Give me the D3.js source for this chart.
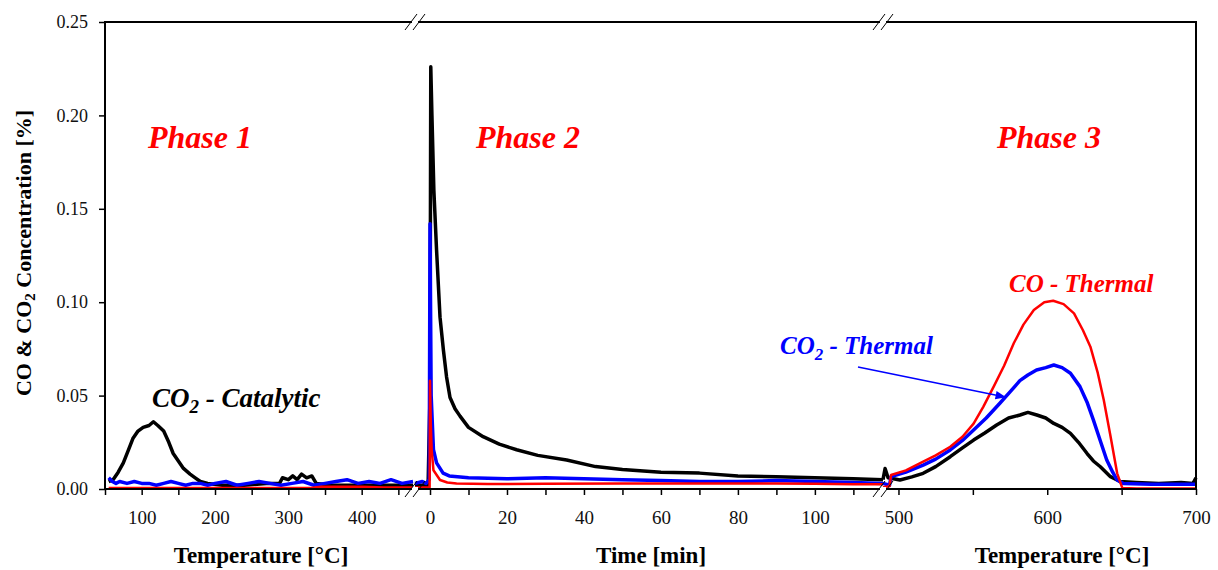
<!DOCTYPE html>
<html>
<head>
<meta charset="utf-8">
<script src="https://cdn.jsdelivr.net/npm/d3@7"></script>
<style>
  body { margin: 0; background: #fff; }
  text { font-family: "Palatino Linotype", "Book Antiqua", Palatino, "Liberation Serif", serif; }
</style>
</head>
<body>
<script>
// phase 1 : temperature ramp [°C], phase 2 : isothermal [min], phase 3 : temperature ramp [°C]
var p1Black = [[55,0.004],[61,0.005],[68,0.009],[75,0.014],[82,0.021],[88,0.027],[95,0.031],[102,0.033],[110,0.034],[116,0.036],[122,0.034],[130,0.031],[137,0.025],[143,0.019],[150,0.015],[157,0.011],[166,0.008],[173,0.006],[180,0.004],[190,0.003],[210,0.002],[240,0.002],[270,0.003],[288,0.003],[292,0.006],[300,0.005],[306,0.007],[312,0.005],[318,0.008],[325,0.006],[332,0.007],[338,0.003],[360,0.002],[400,0.002],[440,0.002],[470,0.002]];
var p1Blue = [[55,0.006],[60,0.004],[65,0.003],[70,0.004],[80,0.003],[90,0.004],[100,0.003],[110,0.003],[120,0.002],[130,0.003],[140,0.004],[150,0.003],[160,0.002],[170,0.003],[180,0.003],[190,0.002],[200,0.003],[215,0.004],[230,0.002],[245,0.003],[260,0.004],[275,0.003],[290,0.002],[305,0.003],[320,0.004],[335,0.002],[350,0.003],[365,0.004],[380,0.005],[395,0.003],[410,0.004],[425,0.003],[440,0.005],[455,0.003],[470,0.004]];
var p1Red = [[55,0.0005],[150,0.0005],[250,0.0005],[330,0.0006],[345,0.0012],[400,0.0012],[430,0.0008],[470,0.0008]];

var p2Black = [[-3.9,0.002],[-0.5,0.002],[0,0.05],[0.2,0.226],[0.5,0.2],[1,0.16],[1.7,0.128],[2.6,0.092],[3.5,0.074],[4.3,0.06],[5.2,0.049],[6.5,0.043],[7.8,0.039],[10,0.033],[13.8,0.028],[18,0.024],[22.5,0.021],[28,0.018],[35.5,0.0155],[43,0.012],[50,0.0105],[60,0.009],[70,0.0085],[80,0.007],[90,0.0065],[100,0.006],[110,0.0055],[117.7,0.005]];
var p2Blue = [[-3.9,0.003],[-2,0.004],[-1,0.003],[-0.2,0.005],[0,0.142],[0.3,0.05],[0.9,0.021],[1.7,0.014],[3.4,0.0085],[5,0.007],[10,0.006],[20,0.0055],[30,0.006],[40,0.0055],[50,0.005],[60,0.0045],[70,0.004],[80,0.004],[90,0.0045],[100,0.004],[110,0.0035],[117.7,0.003]];
var p2Red = [[-3.9,0.0008],[-0.1,0.0008],[0,0.058],[0.2,0.035],[0.43,0.021],[0.9,0.01],[2.6,0.0048],[4.5,0.0035],[6.9,0.003],[15,0.0027],[30,0.0028],[50,0.003],[70,0.003],[90,0.003],[100,0.0028],[110,0.0025],[117.7,0.0025]];

var p3Black = [[489.6,0.005],[491,0.011],[493,0.006],[501,0.0048],[509,0.0065],[516.6,0.0084],[525,0.012],[534.8,0.0173],[543,0.022],[550.5,0.0262],[558,0.030],[566,0.0343],[574,0.038],[581.7,0.0396],[587,0.041],[593,0.0396],[599,0.038],[604.4,0.0351],[610,0.033],[615.6,0.0298],[621,0.025],[626.8,0.019],[631,0.015],[635.7,0.0119],[642.5,0.0066],[649,0.004],[660,0.0035],[675,0.003],[690,0.0035],[698,0.003],[700,0.006]];
var p3Blue = [[489.6,0.003],[494,0.002],[495,0.0066],[505,0.009],[516.6,0.0128],[525,0.016],[534.8,0.0209],[543,0.026],[550.5,0.0316],[559,0.038],[568,0.0458],[575,0.052],[581.6,0.058],[587,0.061],[592.8,0.0637],[599,0.065],[604.4,0.0664],[610,0.065],[615.6,0.062],[622,0.0548],[627,0.046],[631,0.037],[636,0.025],[640,0.0155],[644,0.009],[647,0.0048],[651,0.003],[670,0.0025],[700,0.0025]];
var p3Red = [[489.6,0.001],[494,0.0015],[495,0.0075],[505,0.01],[516.6,0.0146],[525,0.018],[534.8,0.0226],[543,0.028],[550.5,0.035],[557,0.044],[564,0.0548],[571,0.066],[577.5,0.078],[584,0.088],[591,0.0958],[598,0.1],[604,0.1008],[611,0.099],[618,0.094],[624,0.085],[629,0.0762],[634,0.062],[638,0.0476],[642.6,0.028],[647,0.0084],[650.5,0.0005],[660,0.0003],[700,0.0003]];

var yTicks = [0, 0.05, 0.10, 0.15, 0.20, 0.25];
var p1Labels = [100, 200, 300, 400];
var p2Labels = [0, 20, 40, 60, 80, 100];
var p3Labels = [500, 600, 700];

var width = 1218, height = 570;
var pLeft = 105, pRight = 1196, pTop = 22, pBottom = 489;
var brk1 = 415, brk2 = 883;

var svg = d3.select("body").append("svg")
    .attr("width", width)
    .attr("height", height);

var y = d3.scaleLinear().domain([0, 0.25]).range([pBottom, pTop]);
var x1 = d3.scaleLinear().domain([50, 472.7]).range([pLeft, brk1]);
var x2 = d3.scaleLinear().domain([-3.9, 117.7]).range([brk1, brk2]);
var x3 = d3.scaleLinear().domain([489.6, 700]).range([brk2, pRight]);

// curves
var phases = [
    {x: x1, black: p1Black, blue: p1Blue, red: p1Red},
    {x: x2, black: p2Black, blue: p2Blue, red: p2Red},
    {x: x3, black: p3Black, blue: p3Blue, red: p3Red}
];
phases.forEach(function(p) {
    var line = d3.line()
        .x(function(d) { return p.x(d[0]); })
        .y(function(d) { return y(d[1]); });
    [["black", "#000"], ["blue", "#0000ff"], ["red", "#ff0000"]].forEach(function(s) {
        svg.append("path")
            .datum(p[s[0]])
            .attr("d", line)
            .attr("fill", "none")
            .attr("stroke", s[1])
            .attr("stroke-width", s[0] == "red" ? 2.5 : 3.5)
            .attr("stroke-linejoin", "round");
    });
});

// frame
svg.append("rect")
    .attr("x", pLeft).attr("y", pTop)
    .attr("width", pRight - pLeft).attr("height", pBottom - pTop)
    .attr("fill", "none").attr("stroke", "#000").attr("stroke-width", 2);

// y axis
var yAxis = svg.append("g")
    .attr("transform", "translate(" + pLeft + ",0)")
    .call(d3.axisLeft(y).tickValues(yTicks).tickSize(6).tickPadding(11)
        .tickFormat(d3.format(".2f")));
yAxis.select(".domain").remove();
yAxis.selectAll("line").attr("stroke-width", 1.5);
yAxis.selectAll("text").attr("font-size", "18px").attr("fill", "#111");

// x axes, one per phase
function xAxis(scale, ticks, labels) {
    var g = svg.append("g").attr("transform", "translate(0," + pBottom + ")")
        .call(d3.axisBottom(scale).tickValues(ticks).tickSize(6).tickPadding(16)
            .tickFormat(function(d) { return labels.indexOf(d) >= 0 ? d : ""; }));
    g.select(".domain").remove();
    g.selectAll("line").attr("stroke-width", 1.5);
    g.selectAll("text").attr("font-size", "19px").attr("fill", "#111");
}
xAxis(x1, d3.range(50, 451, 50), p1Labels);
xAxis(x2, d3.range(0, 111, 10), p2Labels);
xAxis(x3, [500, 550, 600, 650, 700], p3Labels);

// axis breaks
[brk1, brk2].forEach(function(bx) {
    [pTop, pBottom].forEach(function(by) {
        svg.append("rect").attr("x", bx - 3).attr("y", by - 2)
            .attr("width", 6).attr("height", 4).attr("fill", "#fff");
        [-4, 4].forEach(function(o) {
            svg.append("line")
                .attr("x1", bx + o - 6).attr("y1", by + 8)
                .attr("x2", bx + o + 6).attr("y2", by - 8)
                .attr("stroke", "#000").attr("stroke-width", 1);
        });
    });
});

// axis titles
var titles = [["Temperature [°C]", 261], ["Time [min]", 651], ["Temperature [°C]", 1062]];
titles.forEach(function(t) {
    svg.append("text").attr("x", t[1]).attr("y", 563)
        .attr("text-anchor", "middle").attr("font-size", "23px")
        .attr("font-weight", "bold").text(t[0]);
});
var yt = svg.append("text")
    .attr("transform", "translate(31,253) rotate(-90)")
    .attr("text-anchor", "middle").attr("font-size", "22px").attr("font-weight", "bold");
yt.append("tspan").text("CO & CO");
yt.append("tspan").attr("font-size", "15px").attr("dy", 4).text("2");
yt.append("tspan").attr("dy", -4).text(" Concentration [%]");

// phase labels
[["Phase 1", 148], ["Phase 2", 476], ["Phase 3", 997]].forEach(function(p) {
    svg.append("text").attr("x", p[1]).attr("y", 148)
        .attr("font-size", "32px").attr("font-weight", "bold").attr("font-style", "italic")
        .attr("fill", "#ff0000").text(p[0]);
});

function label(txt, sub, rest, x, yy, color, size) {
    var t = svg.append("text").attr("x", x).attr("y", yy)
        .attr("font-size", size + "px").attr("font-weight", "bold").attr("font-style", "italic")
        .attr("fill", color);
    t.append("tspan").text(txt);
    if (sub) t.append("tspan").attr("font-size", (size - 8) + "px").attr("dy", 6).text(sub);
    t.append("tspan").attr("dy", sub ? -6 : 0).text(rest);
}
label("CO", "2", " - Catalytic", 152, 407, "#000", 27);
label("CO", "2", " - Thermal", 780, 354, "#0000ff", 25);
label("CO", "", " - Thermal", 1009, 292, "#ff0000", 25);

// arrow
svg.append("defs").append("marker")
    .attr("id", "arrow").attr("viewBox", "0 0 10 10")
    .attr("refX", 9).attr("refY", 5)
    .attr("markerWidth", 7).attr("markerHeight", 7)
    .attr("orient", "auto")
  .append("path").attr("d", "M0,1L10,5L0,9Z").attr("fill", "#0000ff");
svg.append("line")
    .attr("x1", 858).attr("y1", 367).attr("x2", 1005).attr("y2", 397)
    .attr("stroke", "#0000ff").attr("stroke-width", 1.5)
    .attr("marker-end", "url(#arrow)");
</script>
</body>
</html>
